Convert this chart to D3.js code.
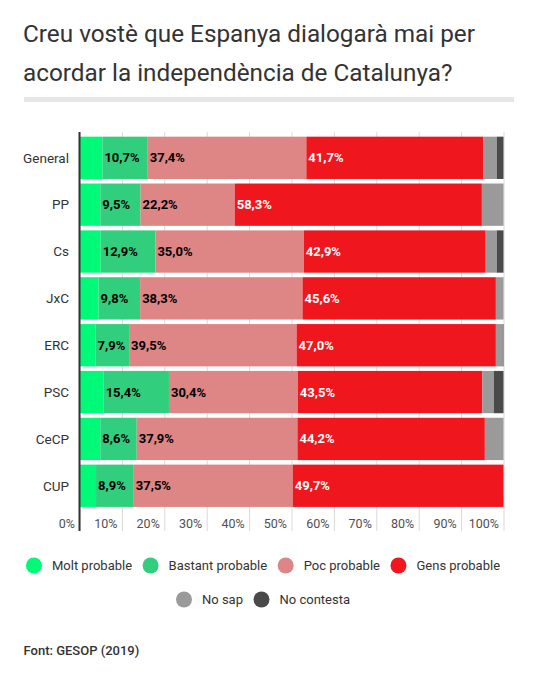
<!DOCTYPE html>
<html>
<head>
<meta charset="utf-8">
<script src="https://cdn.jsdelivr.net/npm/d3@7.9.0/dist/d3.min.js"></script>
<style>
  html, body { margin: 0; padding: 0; background: #fff; }
  svg { display: block; font-family: Roboto, "Noto Sans", sans-serif; }
</style>
</head>
<body>
<svg id="chart" width="543" height="681"></svg>
<script>
// survey data (GESOP 2019), % per group
var categories = ['General', 'PP', 'Cs', 'JxC', 'ERC', 'PSC', 'CeCP', 'CUP']
var molt = [5.4, 4.9, 5.0, 4.5, 3.8, 5.7, 4.9, 3.9]
var bastant = [10.7, 9.5, 12.9, 9.8, 7.9, 15.4, 8.6, 8.9]
var poc = [37.4, 22.2, 35.0, 38.3, 39.5, 30.4, 37.9, 37.5]
var gens = [41.7, 58.3, 42.9, 45.6, 47.0, 43.5, 44.2, 49.7]
var noSap = [3.2, 5.1, 2.6, 1.8, 1.6, 2.7, 4.4, 0]
var noContesta = [1.6, 0, 1.6, 0, 0.2, 2.3, 0, 0]

var seriesNames = ['Molt probable', 'Bastant probable', 'Poc probable', 'Gens probable', 'No sap', 'No contesta']
var seriesValues = [molt, bastant, poc, gens, noSap, noContesta]
var seriesColors = ['#00fa78', '#31cf7d', '#de8586', '#ef171d', '#9a9a9a', '#4a4a4a']
var labelled = [false, true, true, true, false, false]
var labelColors = ['#000', '#000', '#000', '#fff', '#000', '#000']
var tickValues = [0, 10, 20, 30, 40, 50, 60, 70, 80, 90, 100]

var rows = categories.map(function (c, i) {
    var r = { cat: c }
    seriesNames.forEach(function (s, k) { r[s] = seriesValues[k][i] })
    return r
})

var svg = d3.select('#chart')

// title
var title = svg.append('text')
    .attr('x', 23)
    .attr('y', 42)
    .attr('font-size', '24.3px')
    .attr('fill', '#333')
title.append('tspan').attr('x', 23).text('Creu vostè que Espanya dialogarà mai per')
title.append('tspan').attr('x', 23).attr('dy', 38.5).text('acordar la independència de Catalunya?')

svg.append('rect')
    .attr('x', 24).attr('y', 97)
    .attr('width', 490).attr('height', 5)
    .attr('fill', '#e6e6e6')

var plotTop = 132
var plotBottom = 531

var x = d3.scaleLinear().domain([0, 100]).range([79.5, 503.5])
var y = d3.scaleBand()
    .domain(categories)
    .range([134.4, 509.2])
    .paddingInner(0.097)
    .paddingOuter(0.0485)

// grid + tick labels
var axis = svg.append('g')
    .attr('transform', 'translate(0,' + plotBottom + ')')
    .call(d3.axisBottom(x)
        .tickValues(tickValues)
        .tickSize(-(plotBottom - plotTop))
        .tickFormat(function (d) { return d + '%' }))
axis.select('.domain').remove()
axis.selectAll('line').attr('stroke', '#d9d9d9')
axis.selectAll('text')
    .attr('y', -3.5)
    .attr('dy', 0)
    .attr('x', -5)
    .attr('text-anchor', 'end')
    .attr('font-family', 'Roboto, sans-serif')
    .attr('font-size', '12.5px')
    .attr('fill', '#505050')

// stacked bars
var stack = d3.stack().keys(seriesNames)(rows)

var layers = svg.append('g').selectAll('g')
    .data(stack)
    .enter()
    .append('g')
    .attr('fill', function (d, i) { return seriesColors[i] })

layers.selectAll('rect')
    .data(function (d) { return d })
    .enter()
    .append('rect')
    .attr('x', function (d) { return x(d[0]) })
    .attr('y', function (d) { return y(d.data.cat) })
    .attr('width', function (d) { return Math.max(x(d[1]) - x(d[0]), 0) })
    .attr('height', y.bandwidth())

var fmt = d3.format('.1f')
layers.each(function (layer, i) {
    if (!labelled[i]) return
    d3.select(this).selectAll('text')
        .data(layer)
        .enter()
        .append('text')
        .attr('x', function (d) { return x(d[0]) + 2 })
        .attr('y', function (d) { return y(d.data.cat) + y.bandwidth() / 2 })
        .attr('dy', '0.35em')
        .attr('font-size', '13px')
        .attr('font-weight', 'bold')
        .attr('fill', labelColors[i])
        .text(function (d) { return fmt(d[1] - d[0]).replace('.', ',') + '%' })
})

// category labels
svg.append('g').selectAll('text')
    .data(categories)
    .enter()
    .append('text')
    .attr('x', 69)
    .attr('y', function (d) { return y(d) + y.bandwidth() / 2 })
    .attr('dy', '0.35em')
    .attr('text-anchor', 'end')
    .attr('font-size', '13.5px')
    .attr('fill', '#333')
    .text(function (d) { return d })

// axis line
svg.append('line')
    .attr('x1', x(0)).attr('x2', x(0))
    .attr('y1', plotTop).attr('y2', plotBottom)
    .attr('stroke', '#333')
    .attr('stroke-width', 2)

// legend, centred rows that wrap
var legend = svg.append('g')
var items = seriesNames.map(function (name, i) {
    var g = legend.append('g')
    g.append('circle').attr('cx', 8).attr('cy', 0).attr('r', 8).attr('fill', seriesColors[i])
    var t = g.append('text')
        .attr('x', 26)
        .attr('dy', '0.35em')
        .attr('font-size', '13px')
        .attr('fill', '#333')
        .text(name)
    return { g: g, w: 26 + t.node().getComputedTextLength() }
})

var maxW = 480, gap = 10.5, centre = 263, rowY = 565.5, rowH = 34
var lines = [[]], lineW = 0
items.forEach(function (it) {
    var add = (lines[lines.length - 1].length ? gap : 0) + it.w
    if (lineW + add > maxW) {
        lines.push([])
        lineW = 0
        add = it.w
    }
    lines[lines.length - 1].push(it)
    lineW += add
})
lines.forEach(function (line, li) {
    var total = d3.sum(line, function (d) { return d.w }) + gap * (line.length - 1)
    var cx = centre - total / 2
    line.forEach(function (it) {
        it.g.attr('transform', 'translate(' + cx + ',' + (rowY + li * rowH) + ')')
        cx += it.w + gap
    })
})

// source
svg.append('text')
    .attr('x', 23.5)
    .attr('y', 655)
    .attr('font-size', '13px')
    .attr('font-weight', 500)
    .attr('fill', '#333')
    .text('Font: GESOP (2019)')
</script>
</body>
</html>
